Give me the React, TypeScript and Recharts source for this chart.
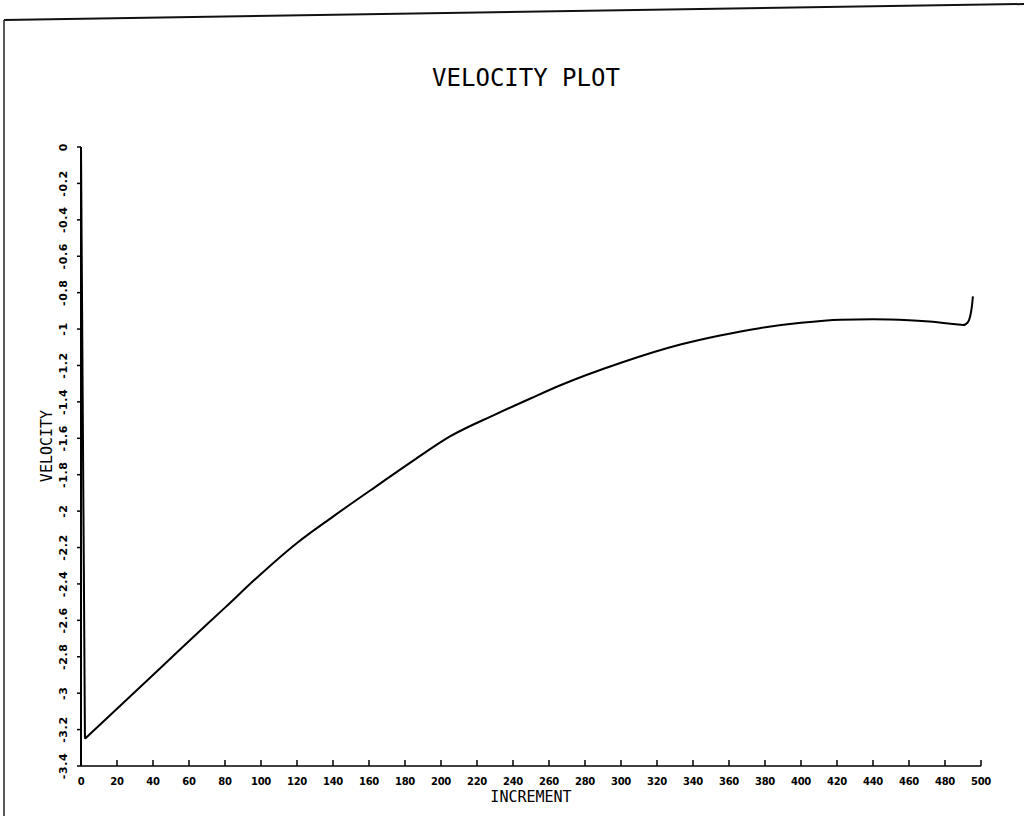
import React from 'react';
import { LineChart, Line, XAxis, YAxis, Label } from 'recharts';

const increments = [0, 2.2, 20, 40, 55, 80, 100, 120, 140, 166, 185, 205, 230, 250, 266, 300, 333, 355, 377, 400, 422, 440, 460, 477, 486, 490, 492.5, 494, 495, 495.5];
const velocities = [0, -3.25, -3.085, -2.9, -2.76, -2.53, -2.345, -2.175, -2.03, -1.85, -1.72, -1.59, -1.47, -1.38, -1.31, -1.185, -1.085, -1.035, -0.995, -0.966, -0.949, -0.946, -0.952, -0.964, -0.974, -0.978, -0.965, -0.93, -0.87, -0.82];
const xTicks = [0, 20, 40, 60, 80, 100, 120, 140, 160, 180, 200, 220, 240, 260, 280, 300, 320, 340, 360, 380, 400, 420, 440, 460, 480, 500];
const yTicks = [0, -0.2, -0.4, -0.6, -0.8, -1, -1.2, -1.4, -1.6, -1.8, -2, -2.2, -2.4, -2.6, -2.8, -3, -3.2, -3.4];

// first segment (initial drop) drawn straight, the rest smoothed
const data = increments.map((x, i) => ({
  x,
  drop: i <= 1 ? velocities[i] : null,
  v: i >= 1 ? velocities[i] : null,
}));

const XTick = (props: any) => {
  const { x, y, payload } = props;
  return (
    <g>
      <line x1={x} x2={x} y1={y} y2={y - 6} stroke="#000" strokeWidth={1.5} />
      <text x={x} y={y + 19} textAnchor="middle" fontFamily="DejaVu Sans" fontWeight="bold" fontSize={10} letterSpacing={-0.3} fill="#000">
        {payload.value}
      </text>
    </g>
  );
};

const YTick = (props: any) => {
  const { x, y, payload } = props;
  const tx = x - 14;
  return (
    <g>
      <line x1={x} x2={x - 4} y1={y} y2={y} stroke="#000" strokeWidth={1.5} />
      <text x={tx} y={y} transform={`rotate(-90, ${tx}, ${y})`} textAnchor="middle" fontFamily="DejaVu Sans" fontWeight="bold" fontSize={11} letterSpacing={0.6} fill="#000">
        {String(payload.value)}
      </text>
    </g>
  );
};

export default function App() {
  return (
    <div style={{ position: 'absolute', left: 0, top: 0, width: 1024, height: 816, background: '#fff' }}>
      <svg width={1024} height={816} style={{ position: 'absolute', left: 0, top: 0, pointerEvents: 'none' }}>
        <line x1={4} y1={20} x2={1024} y2={4} stroke="#111" strokeWidth={2} />
        <line x1={4} y1={20} x2={4} y2={816} stroke="#222" strokeWidth={1.5} />
        <text x={526} y={86} textAnchor="middle" fontFamily="DejaVu Sans Mono" fontSize={24} fill="#000">
          VELOCITY PLOT
        </text>
      </svg>
      <div style={{ position: 'absolute', left: 0, top: 0 }}>
        <LineChart width={1024} height={816} data={data} margin={{ top: 147, right: 43, bottom: 10, left: 41 }}>
          <XAxis
            dataKey="x"
            type="number"
            domain={[0, 500]}
            ticks={xTicks}
            interval={0}
            tickLine={false}
            tickSize={0}
            tickMargin={0}
            tick={<XTick />}
            height={40}
            axisLine={{ stroke: '#000', strokeWidth: 1.5 }}
          >
            <Label value="INCREMENT" position="insideBottom" offset={4} fontFamily="DejaVu Sans Mono" fontSize={15} fill="#000" />
          </XAxis>
          <YAxis
            type="number"
            domain={[-3.4, 0]}
            ticks={yTicks}
            interval={0}
            tickLine={false}
            tickSize={0}
            tickMargin={0}
            tick={<YTick />}
            width={40}
            allowDataOverflow
            axisLine={{ stroke: '#000', strokeWidth: 2 }}
          />
          <Line type="linear" dataKey="drop" stroke="#000" strokeWidth={2} dot={false} isAnimationActive={false} />
          <Line type="monotone" dataKey="v" stroke="#000" strokeWidth={2} dot={false} isAnimationActive={false} />
        </LineChart>
      </div>
      <svg width={1024} height={816} style={{ position: 'absolute', left: 0, top: 0, pointerEvents: 'none' }}>
        <text x={52} y={446} transform="rotate(-90, 52, 446)" textAnchor="middle" fontFamily="DejaVu Sans Mono" fontSize={15} fill="#000">
          VELOCITY
        </text>
      </svg>
    </div>
  );
}
